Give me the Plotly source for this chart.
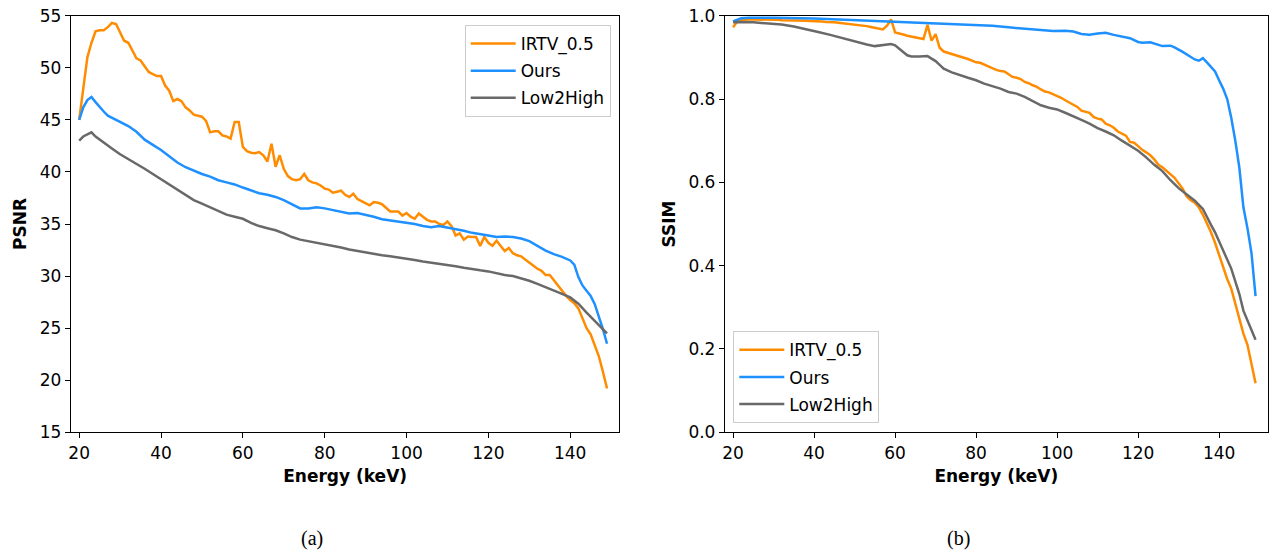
import plotly.graph_objects as go

# ---------------- data ----------------
energy_irtv = list(range(20, 150))
psnr_irtv = [45.0, 48.0, 51.0, 52.4, 53.5, 53.6, 53.6, 53.9, 54.3, 54.2,
             53.4, 52.6, 52.4, 51.6, 50.9, 50.7, 50.1, 49.6, 49.4, 49.2,
             49.2, 48.3, 47.8, 46.8, 47.0, 46.8, 46.2, 45.9, 45.5, 45.4,
             45.3, 44.9, 43.8, 43.9, 43.9, 43.5, 43.4, 43.2, 44.8, 44.8,
             42.4, 42.0, 41.85, 41.8, 41.9, 41.6, 41.0, 42.7, 40.5, 41.6,
             40.3, 39.6, 39.3, 39.2, 39.3, 39.8, 39.2, 39.0, 38.9, 38.7,
             38.4, 38.3, 38.0, 38.1, 38.2, 37.8, 37.6, 37.9, 37.4, 37.2,
             37.0, 36.8, 37.1, 37.05, 36.9, 36.5, 36.2, 36.2, 36.2, 35.8,
             36.05, 35.7, 35.5, 36.0, 35.7, 35.4, 35.25, 35.25, 35.0, 34.9,
             35.25, 34.8, 33.9, 34.1, 33.5, 33.8, 33.75, 33.75, 32.9, 33.75,
             33.2, 32.9, 33.4, 32.9, 32.4, 32.7, 32.2, 32.0, 31.9, 31.6,
             31.3, 31.0, 30.7, 30.5, 30.1, 30.1, 29.6, 29.0, 28.5, 28.1,
             27.7, 27.4, 26.9, 26.0, 25.0, 24.4, 23.4, 22.3, 20.8, 19.2]

energy_ours_psnr = [20, 21, 22, 23, 24, 25, 26, 27, 28, 30, 32, 34, 36, 38, 40, 42, 44, 46,
                    48, 50, 52, 54, 56, 58, 60, 62, 64, 66, 68, 70, 72, 74, 76, 78, 80,
                    82, 84, 86, 88, 90, 92, 94, 96, 98, 100, 102, 104, 106, 108, 110,
                    112, 114, 116, 118, 120, 122, 124, 126, 128, 130, 132, 134, 136,
                    138, 140, 141, 142, 143, 144, 145, 146, 147, 148, 149]
psnr_ours = [45.0, 46.2, 46.9, 47.2, 46.7, 46.2, 45.8, 45.4, 45.2, 44.8, 44.4, 43.85,
             43.1, 42.6, 42.1, 41.5, 40.9, 40.45, 40.1, 39.8, 39.55, 39.2, 39.0, 38.8,
             38.5, 38.25, 37.95, 37.8, 37.6, 37.3, 36.9, 36.5, 36.5, 36.6, 36.5, 36.35,
             36.15, 36.0, 36.05, 35.9, 35.7, 35.45, 35.35, 35.25, 35.1, 35.0, 34.8,
             34.7, 34.8, 34.65, 34.55, 34.35, 34.15, 34.05, 33.9, 33.75, 33.8, 33.75,
             33.6, 33.35, 32.9, 32.45, 32.1, 31.85, 31.5, 31.1, 29.9, 29.1, 28.6,
             28.1, 27.3, 26.2, 24.9, 23.5]

energy_l2h_psnr = [20, 21, 22, 23, 24, 25, 26, 28, 30, 32, 34, 36, 38, 40, 42, 44, 46, 48,
                   50, 52, 54, 56, 58, 60, 62, 64, 66, 68, 70, 72, 74, 76, 78, 80, 82,
                   84, 86, 88, 90, 92, 94, 96, 98, 100, 102, 104, 106, 108, 110, 112,
                   114, 116, 118, 120, 122, 124, 126, 128, 130, 132, 134, 136, 138,
                   140, 142, 144, 146, 148, 149]
psnr_l2h = [43.0, 43.4, 43.6, 43.8, 43.4, 43.1, 42.8, 42.25, 41.7, 41.25, 40.8, 40.3,
            39.8, 39.3, 38.8, 38.3, 37.8, 37.3, 36.95, 36.6, 36.25, 35.9, 35.7, 35.5,
            35.1, 34.8, 34.6, 34.4, 34.1, 33.75, 33.5, 33.35, 33.2, 33.1, 32.95, 32.75,
            32.55, 32.4, 32.3, 32.15, 32.0, 31.9, 31.8, 31.7, 31.55, 31.4, 31.3, 31.15,
            31.05, 30.95, 30.8, 30.65, 30.55, 30.45, 30.25, 30.1, 30.0, 29.8, 29.55,
            29.25, 28.95, 28.65, 28.3, 27.95, 27.35, 26.5, 25.7, 24.9, 24.5]

ssim_irtv = [0.972, 0.986, 0.990, 0.991, 0.991, 0.991, 0.991, 0.990, 0.990, 0.990,
             0.990, 0.990, 0.989, 0.989, 0.989, 0.988, 0.989, 0.988, 0.988, 0.987,
             0.987, 0.986, 0.986, 0.985, 0.985, 0.984, 0.983, 0.982, 0.981, 0.980,
             0.979, 0.977, 0.976, 0.975, 0.973, 0.971, 0.970, 0.967, 0.976, 0.991,
             0.960, 0.958, 0.955, 0.952, 0.950, 0.948, 0.946, 0.944, 0.978, 0.940,
             0.956, 0.923, 0.914, 0.911, 0.908, 0.906, 0.903, 0.900, 0.896, 0.892,
             0.888, 0.887, 0.882, 0.879, 0.874, 0.870, 0.867, 0.866, 0.860, 0.853,
             0.851, 0.848, 0.841, 0.838, 0.833, 0.829, 0.823, 0.818, 0.816, 0.812,
             0.808, 0.803, 0.797, 0.792, 0.787, 0.781, 0.772, 0.770, 0.767, 0.757,
             0.753, 0.751, 0.741, 0.737, 0.731, 0.722, 0.717, 0.712, 0.697, 0.695,
             0.687, 0.678, 0.672, 0.665, 0.655, 0.642, 0.636, 0.627, 0.619, 0.611,
             0.598, 0.585, 0.566, 0.557, 0.551, 0.540, 0.522, 0.502, 0.480, 0.455,
             0.425, 0.395, 0.368, 0.345, 0.310, 0.272, 0.237, 0.210, 0.165, 0.118]

energy_ours_ssim = [20, 21, 22, 24, 30, 40, 50, 56, 60, 68, 75, 80, 84, 88, 91, 95, 99,
                    102, 104, 106, 108, 110, 112, 114, 116, 118, 120, 121, 123, 125, 126,
                    128, 129, 131, 133, 134, 135, 136, 137, 138, 139, 140, 141, 142, 143,
                    144, 145, 146, 147, 148, 149]
ssim_ours = [0.986, 0.991, 0.994, 0.995, 0.995, 0.993, 0.989, 0.987, 0.986, 0.983, 0.980,
             0.978, 0.976, 0.972, 0.970, 0.967, 0.963, 0.964, 0.962, 0.956, 0.954, 0.957,
             0.959, 0.954, 0.950, 0.946, 0.937, 0.935, 0.936, 0.929, 0.927, 0.928, 0.924,
             0.913, 0.900, 0.895, 0.892, 0.898, 0.888, 0.878, 0.866, 0.845, 0.825, 0.800,
             0.755, 0.700, 0.635, 0.540, 0.490, 0.430, 0.327]

energy_l2h_ssim = [20, 22, 25, 29, 32, 35, 38, 41, 44, 47, 50, 53, 55, 57, 59, 60, 61, 62,
                   63, 64, 66, 68, 69, 70, 71, 72, 74, 76, 78, 80, 82, 84, 86, 88, 90, 92,
                   94, 96, 98, 100, 102, 104, 106, 108, 110, 112, 114, 116, 118, 120, 122,
                   124, 126, 128, 130, 132, 134, 136, 137, 138, 139, 140, 141, 142, 143,
                   144, 145, 146, 147, 148, 149]
ssim_l2h = [0.984, 0.985, 0.984, 0.982, 0.979, 0.974, 0.968, 0.961, 0.954, 0.946, 0.938,
            0.931, 0.927, 0.930, 0.932, 0.929, 0.922, 0.913, 0.905, 0.902, 0.902, 0.903,
            0.897, 0.891, 0.882, 0.873, 0.864, 0.857, 0.851, 0.845, 0.837, 0.831, 0.825,
            0.817, 0.813, 0.805, 0.795, 0.785, 0.779, 0.775, 0.767, 0.759, 0.750, 0.741,
            0.730, 0.722, 0.713, 0.700, 0.687, 0.676, 0.660, 0.642, 0.627, 0.605, 0.586,
            0.570, 0.556, 0.536, 0.515, 0.498, 0.480, 0.458, 0.440, 0.418, 0.393, 0.362,
            0.332, 0.292, 0.270, 0.248, 0.222]

series_names = ["IRTV_0.5", "Ours", "Low2High"]
series_colors = ["#FF8C00", "#1E90FF", "#696969"]
x_ticks = [20, 40, 60, 80, 100, 120, 140]

# ---------------- figure ----------------
FONT = "DejaVu Sans"
W, H = 1274, 555
fig = go.Figure()

left = [(energy_irtv, psnr_irtv), (energy_ours_psnr, psnr_ours), (energy_l2h_psnr, psnr_l2h)]
right = [(energy_irtv, ssim_irtv), (energy_ours_ssim, ssim_ours), (energy_l2h_ssim, ssim_l2h)]

for i, (xs, ys) in enumerate(left):
    fig.add_trace(go.Scatter(x=xs, y=ys, mode="lines", name=series_names[i],
                             line=dict(color=series_colors[i], width=2.5),
                             xaxis="x", yaxis="y", legend="legend",
                             legendgroup="a" + str(i)))
for i, (xs, ys) in enumerate(right):
    fig.add_trace(go.Scatter(x=xs, y=ys, mode="lines", name=series_names[i],
                             line=dict(color=series_colors[i], width=2.5),
                             xaxis="x2", yaxis="y2", legend="legend2",
                             legendgroup="b" + str(i)))

def px_x(p):
    return p / W

def px_y(p):
    return (H - p) / H

axis_common = dict(showline=True, linecolor="black", linewidth=1.3, mirror=True,
                   ticks="outside", ticklen=5, tickwidth=1.2, tickcolor="black",
                   showgrid=False, zeroline=False, automargin=False,
                   tickfont=dict(family=FONT, size=17, color="black"))

xdom1 = [px_x(71), px_x(619.3)]
xdom2 = [px_x(725), px_x(1267.7)]
ydom = [px_y(432.3), px_y(15.7)]

legend_common = dict(bgcolor="rgba(255,255,255,0.8)", bordercolor="#cccccc", borderwidth=1,
                     font=dict(family=FONT, size=17, color="black"),
                     tracegroupgap=2, itemwidth=45)

fig.update_layout(
    width=W, height=H,
    margin=dict(l=0, r=0, t=0, b=0, autoexpand=False),
    paper_bgcolor="white", plot_bgcolor="white",
    font=dict(family=FONT, color="black"),
    xaxis=dict(domain=xdom1, range=[18, 152], tickvals=x_ticks, anchor="y",
               title=dict(text="<b>Energy (keV)</b>", font=dict(family=FONT, size=17), standoff=8),
               **axis_common),
    yaxis=dict(domain=ydom, range=[15, 55], tickvals=[15, 20, 25, 30, 35, 40, 45, 50, 55],
               anchor="x",
               title=dict(text="<b>PSNR</b>", font=dict(family=FONT, size=17), standoff=8),
               **axis_common),
    xaxis2=dict(domain=xdom2, range=[18, 152], tickvals=x_ticks, anchor="y2",
                title=dict(text="<b>Energy (keV)</b>", font=dict(family=FONT, size=17), standoff=8),
                **axis_common),
    yaxis2=dict(domain=ydom, range=[0, 1.0], tickvals=[0, 0.2, 0.4, 0.6, 0.8, 1.0],
                tickformat=".1f", anchor="x2",
                title=dict(text="<b>SSIM</b>", font=dict(family=FONT, size=17), standoff=8),
                **axis_common),
    legend=dict(x=px_x(610.7), y=px_y(25), xanchor="right", yanchor="top", **legend_common),
    legend2=dict(x=px_x(733.3), y=px_y(423.3), xanchor="left", yanchor="bottom", **legend_common),
    annotations=[
        dict(text="(a)", x=px_x(312), y=px_y(538), xref="paper", yref="paper",
             xanchor="center", yanchor="middle", showarrow=False,
             font=dict(family="Liberation Serif", size=20, color="black")),
        dict(text="(b)", x=px_x(958), y=px_y(538), xref="paper", yref="paper",
             xanchor="center", yanchor="middle", showarrow=False,
             font=dict(family="Liberation Serif", size=20, color="black")),
    ],
)

fig.write_html("out.html")
